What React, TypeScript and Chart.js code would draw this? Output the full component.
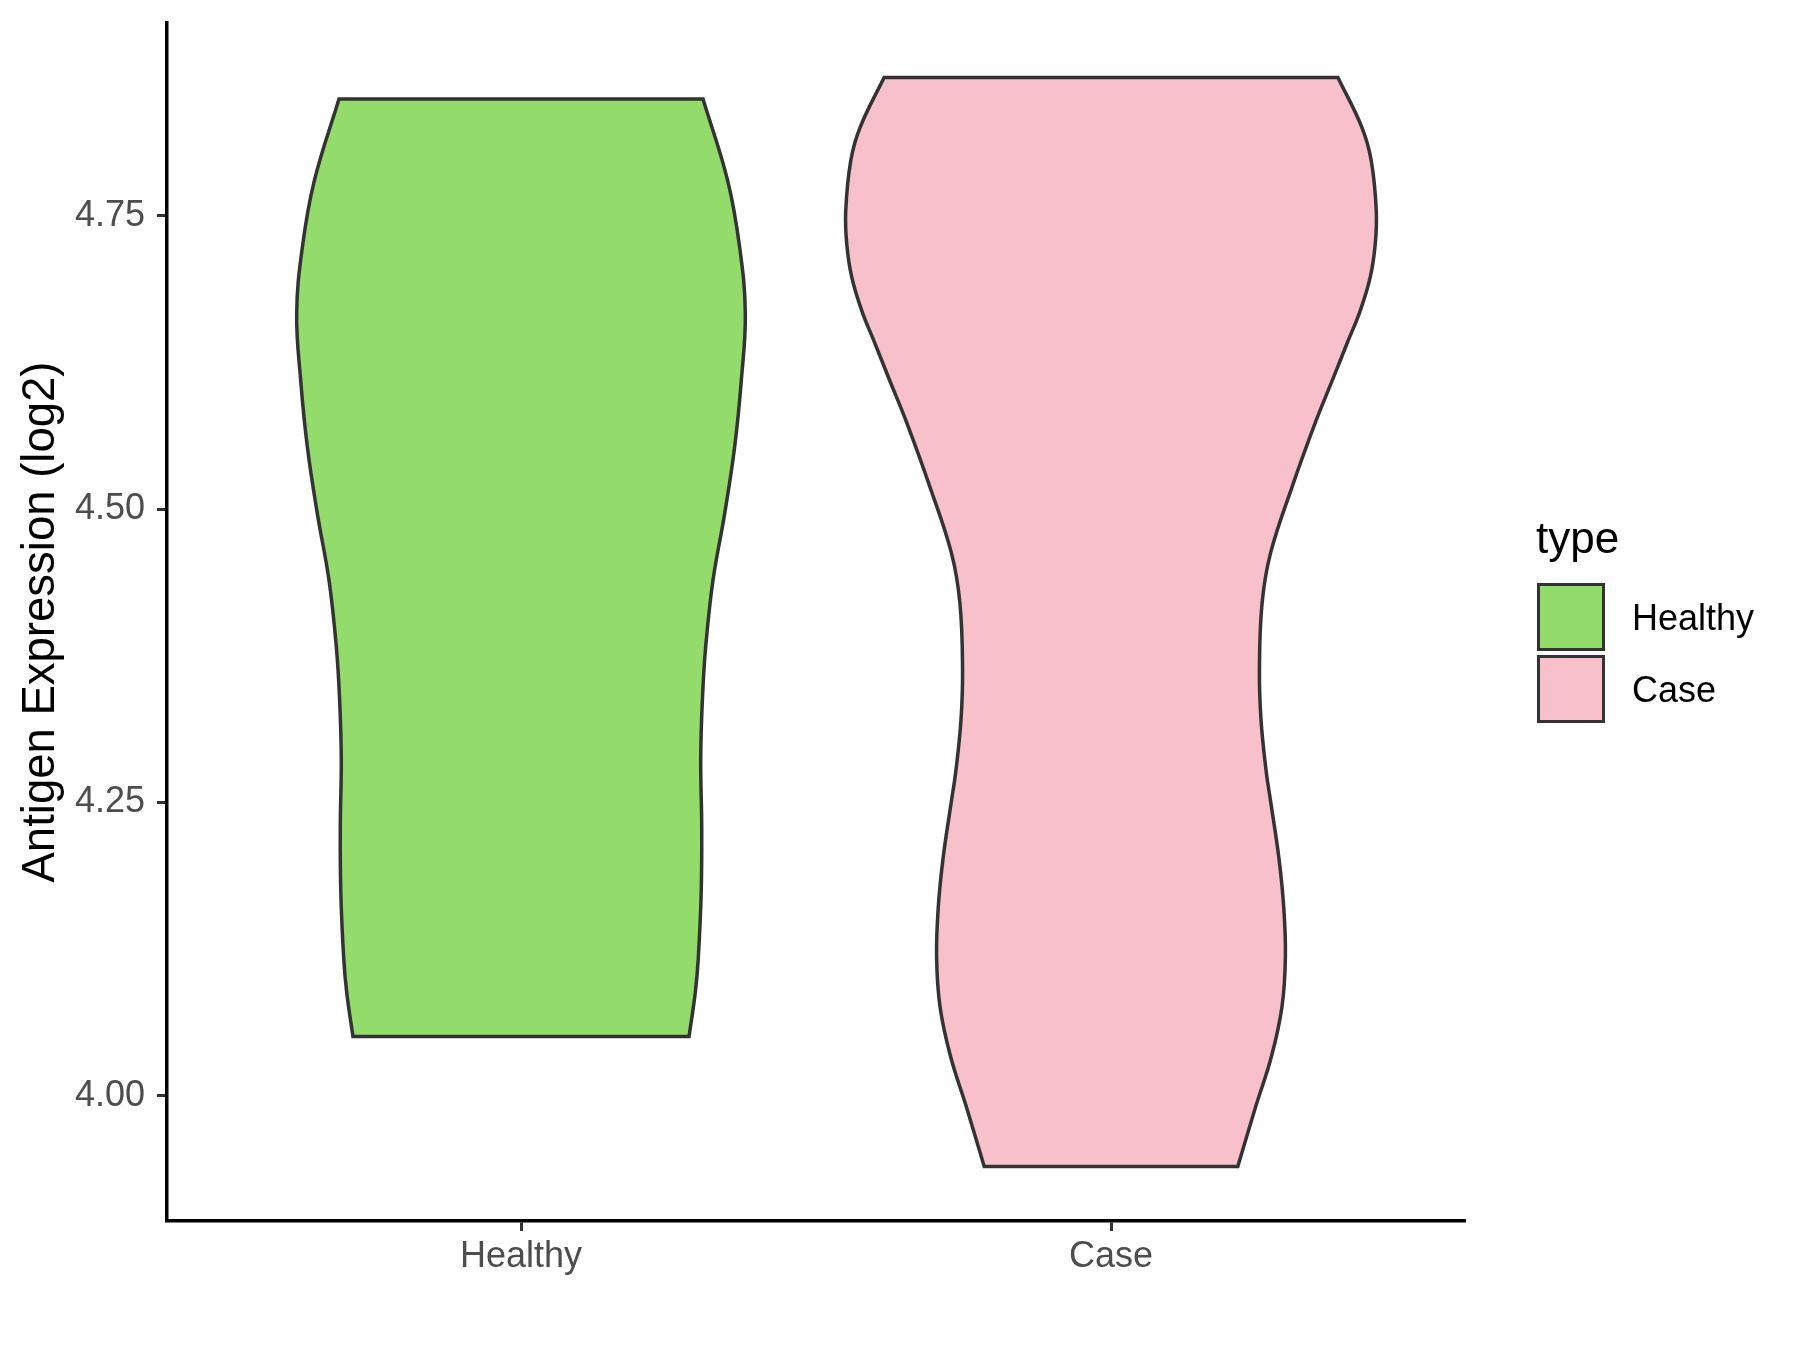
import React, { useEffect, useRef } from 'react';
import { Chart, registerables } from 'chart.js';

Chart.register(...registerables);

// ---------------- data ----------------
const categories = ['Healthy', 'Case'];
const fillColors = ['#93DB6B', '#F7C0CB'];
const outlineColor = '#333333';
const yTickValues = [4.0, 4.25, 4.5, 4.75];
const yAxisTitle = 'Antigen Expression (log2)';
const legendTitle = 'type';

// violin outlines: expression levels (top -> bottom) and half-widths (category units)
const healthyLevels = [4.8493, 4.7798, 4.723, 4.6666, 4.6095, 4.5528, 4.4961, 4.4393, 4.3825, 4.3371, 4.2861, 4.2293, 4.1728, 4.1158, 4.0877, 4.0505];
const healthyHalfWidths = [0.3085, 0.3503, 0.3706, 0.3802, 0.3734, 0.3621, 0.3452, 0.3254, 0.313, 0.3074, 0.3046, 0.3063, 0.3054, 0.3003, 0.2953, 0.2848];

const caseLevels = [4.8677, 4.8252, 4.7968, 4.7543, 4.7259, 4.6975, 4.6691, 4.6408, 4.6123, 4.5755, 4.5187, 4.462, 4.4194, 4.3627, 4.3201, 4.2775, 4.252, 4.2037, 4.1612, 4.1186, 4.076, 4.0335, 3.9909, 3.9398];
const caseHalfWidths = [0.3846, 0.4252, 0.4411, 0.4496, 0.4479, 0.4394, 0.4225, 0.3998, 0.3773, 0.3477, 0.3068, 0.2702, 0.256, 0.2516, 0.2543, 0.2628, 0.2702, 0.2843, 0.2927, 0.2956, 0.2898, 0.2719, 0.2453, 0.2149];

const yMin = 3.8934;
const yMax = 4.9141;
const xMin = 0.4;
const xMax = 2.6;

const FONT = "'Liberation Sans', Arial, Helvetica, sans-serif";

type Pt = { x: number; y: number };

// closed outline: start mid-top, go down the right side, across the bottom, up the left side
// corner vertices are repeated so the smoothing keeps flat top/bottom edges straight
function violinOutline(center: number, levels: number[], hw: number[]): Pt[] {
  const n = levels.length;
  const top = levels[0];
  const bottom = levels[n - 1];
  const pts: Pt[] = [];
  pts.push({ x: center, y: top });
  pts.push({ x: center + hw[0], y: top });
  pts.push({ x: center + hw[0], y: top });
  for (let i = 1; i < n - 1; i++) pts.push({ x: center + hw[i], y: levels[i] });
  pts.push({ x: center + hw[n - 1], y: bottom });
  pts.push({ x: center + hw[n - 1], y: bottom });
  pts.push({ x: center - hw[n - 1], y: bottom });
  pts.push({ x: center - hw[n - 1], y: bottom });
  for (let i = n - 2; i >= 1; i--) pts.push({ x: center - hw[i], y: levels[i] });
  pts.push({ x: center - hw[0], y: top });
  pts.push({ x: center - hw[0], y: top });
  pts.push({ x: center, y: top });
  return pts;
}

export default function App() {
  const canvasRef = useRef<HTMLCanvasElement | null>(null);

  useEffect(() => {
    const canvas = canvasRef.current;
    if (!canvas) return;
    const series = [
      { levels: healthyLevels, hw: healthyHalfWidths },
      { levels: caseLevels, hw: caseHalfWidths },
    ];
    const chart = new Chart(canvas, {
      type: 'scatter',
      data: {
        datasets: series.map((s, i) => ({
          label: categories[i],
          data: violinOutline(i + 1, s.levels, s.hw),
          showLine: true,
          fill: 'shape',
          backgroundColor: fillColors[i],
          borderColor: outlineColor,
          borderWidth: 3.5,
          borderJoinStyle: 'miter',
          pointRadius: 0,
          pointHoverRadius: 0,
          tension: 0.4,
        })) as any,
      },
      options: {
        animation: false,
        responsive: false,
        devicePixelRatio: 1,
        events: [],
        layout: { padding: { left: 0, top: 23, right: 335, bottom: 29 } },
        plugins: {
          legend: { display: false },
          tooltip: { enabled: false },
        },
        scales: {
          x: {
            type: 'linear',
            min: xMin,
            max: xMax,
            afterBuildTicks: (s: any) => {
              s.ticks = categories.map((_, i) => ({ value: i + 1 }));
            },
            afterFit: (s: any) => {
              s.height = 100;
              s.paddingLeft = 0;
              s.paddingRight = 0;
            },
            ticks: {
              callback: (v: any) => categories[Math.round(Number(v)) - 1] ?? '',
              font: { family: FONT, size: 36 },
              color: '#4D4D4D',
              padding: 4,
              autoSkip: false,
              maxRotation: 0,
            },
            grid: {
              drawOnChartArea: false,
              drawTicks: true,
              tickLength: 10,
              tickWidth: 3,
              tickColor: '#333333',
            },
            border: { display: true, color: '#000000', width: 3.5 },
          },
          y: {
            type: 'linear',
            min: yMin,
            max: yMax,
            afterBuildTicks: (s: any) => {
              s.ticks = yTickValues.map((v) => ({ value: v }));
            },
            afterFit: (s: any) => {
              s.width = 167;
              s.paddingTop = 0;
              s.paddingBottom = 0;
            },
            ticks: {
              callback: (v: any) => Number(v).toFixed(2),
              font: { family: FONT, size: 36 },
              color: '#4D4D4D',
              padding: 12,
              autoSkip: false,
            },
            grid: {
              drawOnChartArea: false,
              drawTicks: true,
              tickLength: 10,
              tickWidth: 3,
              tickColor: '#333333',
            },
            border: { display: true, color: '#000000', width: 3.5 },
            title: {
              display: true,
              text: yAxisTitle,
              font: { family: FONT, size: 45.5 },
              color: '#000000',
              padding: { top: 14, bottom: 0 },
            },
          },
        },
      } as any,
    });
    return () => chart.destroy();
  }, []);

  return (
    <div style={{ position: 'absolute', left: 0, top: 0, width: 1800, height: 1350, background: '#ffffff', overflow: 'hidden' }}>
      <canvas ref={canvasRef} width={1800} height={1350} style={{ position: 'absolute', left: 0, top: 0, width: 1800, height: 1350 }} />
      <div
        style={{
          position: 'absolute',
          left: 1536,
          top: 516,
          fontFamily: FONT,
          fontSize: 44,
          lineHeight: '44px',
          color: '#000000',
          whiteSpace: 'nowrap',
        }}
      >
        {legendTitle}
      </div>
      {categories.map((c, i) => (
        <React.Fragment key={c}>
          <div
            style={{
              position: 'absolute',
              left: 1537,
              top: 583 + i * 72,
              width: 68,
              height: 68,
              boxSizing: 'border-box',
              border: `3.5px solid ${outlineColor}`,
              background: fillColors[i],
            }}
          />
          <div
            style={{
              position: 'absolute',
              left: 1632,
              top: 600 + i * 72,
              fontFamily: FONT,
              fontSize: 36,
              lineHeight: '36px',
              color: '#000000',
              whiteSpace: 'nowrap',
            }}
          >
            {c}
          </div>
        </React.Fragment>
      ))}
    </div>
  );
}
